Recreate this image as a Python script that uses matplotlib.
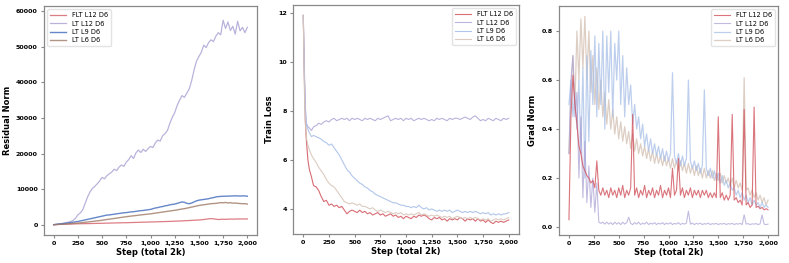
import numpy as np
import matplotlib
matplotlib.use("Agg")
import matplotlib.pyplot as plt

labels = ["FLT L12 D6", "LT L12 D6", "LT L9 D6", "LT L6 D6"]

# ---------------- Residual norm (steps every 25) ----------------
res_steps = list(range(0, 2001, 25))
res_flt = [0, 30, 60, 90, 120, 150, 170, 190, 210, 230, 250, 270, 290, 300, 310, 320, 340, 350, 370, 380,
           400, 420, 440, 450, 470, 490, 500, 520, 530, 550, 560, 580, 600, 620, 640, 660, 680, 700, 720, 740,
           760, 780, 800, 820, 840, 860, 880, 900, 920, 950, 980, 1010, 1040, 1070, 1100, 1130, 1170, 1210, 1250, 1290,
           1330, 1380, 1450, 1550, 1650, 1700, 1650, 1550, 1450, 1500, 1550, 1500, 1550, 1580, 1550, 1600, 1580, 1620, 1600, 1620,
           1600]
res_lt12 = [0, 100, 200, 300, 400, 550, 700, 900, 1200, 1800, 2800, 3300, 4200, 6000, 7800, 9200, 10200, 10800, 11500, 12300,
            13300, 12900, 13800, 14300, 14800, 15600, 15200, 16200, 16800, 16400, 17600, 18300, 19400, 18600, 20200, 21000, 20300, 21200, 20600, 21400,
            22000, 21700, 23000, 23800, 23500, 25000, 25600, 26500, 28500, 30200, 31500, 33500, 35000, 36300, 35800, 37000, 38200, 40500, 43500, 46000,
            47300, 48500, 50500, 49800, 51200, 52000, 51500, 53000, 54000, 53400, 57500, 55200, 57000, 54600, 55800, 53600, 57200, 54500, 55500, 54000,
            55500]
res_lt9 = [0, 80, 160, 240, 320, 400, 500, 600, 700, 800, 900, 1050, 1200, 1350, 1500, 1650, 1800, 1950, 2100, 2250,
           2400, 2550, 2700, 2750, 2850, 2950, 3050, 3150, 3250, 3350, 3400, 3500, 3600, 3650, 3750, 3850, 3950, 4000, 4100, 4200,
           4300, 4500, 4700, 4800, 5000, 5100, 5300, 5400, 5600, 5700, 5800, 6000, 6200, 6400, 6300, 6000, 5900, 6100, 6400, 6700,
           6900, 7000, 7100, 7200, 7300, 7500, 7600, 7800, 7900, 7950, 8000, 8000, 8050, 8050, 8100, 8100, 8100, 8050, 8100, 8100,
           8000]
res_lt6 = [0, 40, 80, 120, 160, 200, 250, 300, 350, 400, 450, 520, 600, 680, 760, 840, 920, 1000, 1080, 1160,
           1250, 1350, 1450, 1550, 1650, 1750, 1850, 1950, 2050, 2150, 2250, 2330, 2420, 2500, 2580, 2660, 2750, 2830, 2900, 2980,
           3050, 3150, 3250, 3350, 3450, 3550, 3650, 3750, 3850, 3950, 4050, 4150, 4300, 4400, 4500, 4650, 4800, 4950, 5100, 5250,
           5400, 5500, 5600, 5700, 5800, 5900, 5950, 6000, 6100, 6200, 6150, 6250, 6100, 6200, 6050, 6100, 6000, 5950, 5900, 5900,
           5800]

# ---------------- Train loss ----------------
loss_steps = [0, 10, 20, 30, 45, 60, 80, 100] + list(range(125, 2001, 25))
loss_flt = [11.9, 9.5, 7.6, 6.8, 6.0, 5.6, 5.3, 4.95,
            4.9, 4.75, 4.5, 4.3, 4.35, 4.15, 4.2, 4.1, 4.15, 4.05, 4.1, 3.95, 3.8, 3.9, 3.95, 3.9,
            3.85, 3.95, 3.85, 3.9, 3.8, 3.85, 3.75, 3.8, 3.85, 3.75, 3.8, 3.7, 3.75, 3.8, 3.7, 3.75,
            3.65, 3.7, 3.6, 3.7, 3.65, 3.6, 3.7, 3.65, 3.75, 3.7, 3.75, 3.7, 3.6, 3.55, 3.65, 3.6,
            3.65, 3.55, 3.6, 3.5, 3.6, 3.55, 3.6, 3.55, 3.65, 3.6, 3.5, 3.6, 3.55, 3.6, 3.5, 3.6,
            3.5, 3.55, 3.45, 3.55, 3.45, 3.4, 3.5, 3.45, 3.5, 3.45, 3.5, 3.55]
loss_lt12 = [11.9, 9.8, 8.2, 7.5, 7.35, 7.3, 7.2, 7.35,
             7.4, 7.5, 7.45, 7.55, 7.6, 7.55, 7.65, 7.7, 7.6, 7.65, 7.7, 7.65, 7.7, 7.6, 7.7, 7.65,
             7.7, 7.65, 7.6, 7.7, 7.65, 7.7, 7.65, 7.6, 7.7, 7.65, 7.7, 7.75, 7.8, 7.6, 7.65, 7.7,
             7.65, 7.7, 7.6, 7.7, 7.65, 7.7, 7.6, 7.65, 7.7, 7.65, 7.7, 7.65, 7.6, 7.65, 7.6, 7.7,
             7.65, 7.7, 7.65, 7.6, 7.7, 7.65, 7.7, 7.7, 7.65, 7.7, 7.75, 7.7, 7.65, 7.75, 7.8, 7.7,
             7.6, 7.65, 7.6, 7.7, 7.65, 7.6, 7.7, 7.65, 7.6, 7.7, 7.65, 7.7]
loss_lt9 = [11.9, 9.6, 8.0, 7.4, 7.25, 7.1, 6.95, 7.0,
            6.95, 6.9, 6.85, 6.75, 6.7, 6.6, 6.65, 6.5, 6.35, 6.2, 6.0, 5.8, 5.6, 5.5, 5.35, 5.25,
            5.15, 5.05, 5.0, 4.9, 4.85, 4.75, 4.7, 4.6, 4.55, 4.5, 4.45, 4.4, 4.35, 4.3, 4.25, 4.25,
            4.2, 4.15, 4.15, 4.1, 4.1, 4.05, 4.1, 4.05, 4.15, 4.05, 4.0, 4.05, 3.95, 4.0, 3.95, 3.9,
            3.95, 3.9, 3.95, 3.9, 3.95, 3.85, 3.9, 3.95, 3.9, 3.85, 3.9, 3.85, 3.9, 3.85, 3.9, 3.85,
            3.8, 3.85, 3.8, 3.85, 3.75, 3.8, 3.75, 3.8, 3.75, 3.8, 3.8, 3.85]
loss_lt6 = [11.9, 9.0, 7.5, 6.9, 6.6, 6.4, 6.2, 6.05,
            5.9, 5.7, 5.55, 5.4, 5.2, 5.05, 4.95, 4.9, 4.75, 4.6, 4.45, 4.3, 4.25, 4.2, 4.25, 4.2,
            4.15, 4.2, 4.1, 4.1, 4.05, 4.0, 4.05, 3.95, 3.9, 3.95, 3.9, 3.85, 3.9, 3.85, 3.8, 3.85,
            3.8, 3.85, 3.75, 3.8, 3.75, 3.8, 3.75, 3.8, 3.85, 3.75, 3.8, 3.75, 3.7, 3.75, 3.7, 3.75,
            3.7, 3.65, 3.7, 3.65, 3.7, 3.6, 3.65, 3.7, 3.65, 3.6, 3.65, 3.6, 3.65, 3.6, 3.65, 3.6,
            3.55, 3.6, 3.55, 3.6, 3.5, 3.55, 3.6, 3.55, 3.6, 3.55, 3.6, 3.65]

# ---------------- Grad norm (steps every 20) ----------------
grad_steps = list(range(0, 2001, 20))
grad_flt = [0.03, 0.45, 0.62, 0.5, 0.42, 0.33, 0.3, 0.25, 0.23, 0.21, 0.2, 0.18, 0.19, 0.16, 0.27, 0.15, 0.13, 0.16, 0.13, 0.15,
            0.12, 0.16, 0.13, 0.15, 0.12, 0.16, 0.13, 0.17, 0.12, 0.15, 0.13, 0.16, 0.46, 0.13, 0.16, 0.12, 0.15, 0.13, 0.17, 0.12,
            0.15, 0.13, 0.16, 0.12, 0.15, 0.13, 0.17, 0.12, 0.15, 0.13, 0.16, 0.12, 0.24, 0.13, 0.15, 0.28, 0.13, 0.16, 0.12, 0.15,
            0.13, 0.16, 0.12, 0.15, 0.13, 0.15, 0.12, 0.15, 0.13, 0.15, 0.12, 0.14, 0.12, 0.14, 0.12, 0.45, 0.12, 0.14, 0.11, 0.13,
            0.11, 0.13, 0.46, 0.11, 0.12, 0.10, 0.11, 0.09, 0.48, 0.09, 0.10, 0.08, 0.09, 0.49, 0.08, 0.085, 0.075, 0.08, 0.07, 0.075,
            0.07]
grad_lt12 = [0.3, 0.6, 0.7, 0.45, 0.55, 0.2, 0.45, 0.12, 0.35, 0.1, 0.25, 0.08, 0.2, 0.06, 0.18, 0.02, 0.015, 0.02, 0.012, 0.02,
             0.012, 0.018, 0.01, 0.02, 0.012, 0.018, 0.01, 0.02, 0.012, 0.018, 0.04, 0.015, 0.01, 0.018, 0.012, 0.02, 0.01, 0.016, 0.012, 0.02,
             0.01, 0.016, 0.012, 0.018, 0.01, 0.016, 0.012, 0.018, 0.01, 0.016, 0.012, 0.018, 0.01, 0.015, 0.012, 0.018, 0.01, 0.015, 0.012, 0.016,
             0.065, 0.012, 0.016, 0.01, 0.015, 0.012, 0.016, 0.01, 0.014, 0.012, 0.016, 0.01, 0.014, 0.012, 0.015, 0.01, 0.014, 0.012, 0.015, 0.01,
             0.014, 0.012, 0.015, 0.01, 0.014, 0.012, 0.015, 0.01, 0.05, 0.012, 0.014, 0.01, 0.013, 0.012, 0.014, 0.01, 0.013, 0.05, 0.012, 0.01,
             0.012]
grad_lt9 = [0.5, 0.6, 0.45, 0.55, 0.4, 0.6, 0.3, 0.65, 0.2, 0.7, 0.35, 0.72, 0.5, 0.78, 0.45, 0.75, 0.5, 0.8, 0.4, 0.78,
            0.55, 0.8, 0.45, 0.75, 0.6, 0.8, 0.5, 0.7, 0.45, 0.65, 0.5, 0.58, 0.42, 0.5, 0.4, 0.45, 0.36, 0.42, 0.33, 0.38,
            0.31, 0.36, 0.3, 0.34, 0.29, 0.33, 0.28, 0.32, 0.27, 0.31, 0.27, 0.3, 0.63, 0.29, 0.26, 0.3, 0.25, 0.29, 0.25, 0.28,
            0.6, 0.27, 0.24, 0.27, 0.23, 0.26, 0.22, 0.25, 0.56, 0.24, 0.21, 0.24, 0.2, 0.23, 0.19, 0.22, 0.18, 0.21, 0.17, 0.19,
            0.16, 0.18, 0.15, 0.16, 0.13, 0.15, 0.12, 0.14, 0.11, 0.13, 0.1, 0.12, 0.09, 0.11, 0.09, 0.1, 0.08, 0.1, 0.08, 0.09,
            0.08]
grad_lt6 = [0.3, 0.55, 0.7, 0.5, 0.8, 0.6, 0.85, 0.65, 0.86, 0.6, 0.8, 0.55, 0.7, 0.5, 0.65, 0.48, 0.6, 0.45, 0.55, 0.42,
            0.52, 0.4, 0.48, 0.38, 0.45, 0.36, 0.43, 0.35, 0.41, 0.34, 0.39, 0.32, 0.38, 0.31, 0.36, 0.3, 0.34, 0.29, 0.33, 0.28,
            0.32, 0.27, 0.31, 0.26, 0.3, 0.26, 0.29, 0.25, 0.29, 0.25, 0.28, 0.24, 0.28, 0.24, 0.27, 0.23, 0.27, 0.23, 0.26, 0.22,
            0.26, 0.22, 0.25, 0.21, 0.25, 0.21, 0.24, 0.2, 0.24, 0.2, 0.23, 0.2, 0.23, 0.19, 0.22, 0.19, 0.22, 0.18, 0.21, 0.18,
            0.2, 0.17, 0.2, 0.16, 0.19, 0.16, 0.18, 0.15, 0.61, 0.15, 0.16, 0.13, 0.15, 0.12, 0.14, 0.11, 0.13, 0.1, 0.12, 0.09,
            0.11]

# ---------------- styling ----------------
c_red = "#d1525c"
c_purple = "#a99fd3"
c_blue_dark = "#4a72c0"
c_brown_dark = "#9e7a66"
c_blue_light = "#a9c0e8"
c_brown_light = "#d8c6ba"

W, H = 789, 263
fig = plt.figure(figsize=(W / 100, H / 100), dpi=100)

XT = [0, 250, 500, 750, 1000, 1250, 1500, 1750, 2000]
XTL = ["0", "250", "500", "750", "1,000", "1,250", "1,500", "1,750", "2,000"]

def style(ax, ylabel):
    for s in ax.spines.values():
        s.set_color("#888888")
        s.set_linewidth(0.9)
    ax.set_xticks(XT)
    ax.set_xticklabels(XTL)
    ax.tick_params(axis="both", colors="#888888", labelcolor="black", length=2.5, width=0.8, labelsize=4.6, pad=2)
    for t in ax.get_xticklabels() + ax.get_yticklabels():
        t.set_fontweight("bold")
    ax.set_xlabel("Step (total 2k)", fontsize=6.0, fontweight="bold", labelpad=1)
    ax.set_ylabel(ylabel, fontsize=6.0, fontweight="bold", labelpad=3)

leg_kw = dict(fontsize=4.8, frameon=True, handlelength=2.4, borderpad=0.45, labelspacing=0.35,
              framealpha=0.8, edgecolor="#dddddd")

# Panel 1
ax1 = fig.add_axes([44 / W, 1 - 235 / H, 213 / W, 229 / H])
ax1.plot(res_steps, res_flt, color=c_red, lw=0.9, alpha=0.75, label=labels[0])
ax1.plot(res_steps, res_lt12, color=c_purple, lw=0.9, alpha=0.8, label=labels[1])
ax1.plot(res_steps, res_lt9, color=c_blue_dark, lw=1.0, alpha=0.85, label=labels[2])
ax1.plot(res_steps, res_lt6, color=c_brown_dark, lw=1.0, alpha=0.8, label=labels[3])
ax1.set_yticks([0, 10000, 20000, 30000, 40000, 50000, 60000])
ax1.set_ylim(-2900, 61500)
style(ax1, "Residual Norm")
ax1.legend(loc="upper left", **leg_kw)

# Panel 2
ax2 = fig.add_axes([293 / W, 1 - 234 / H, 226 / W, 229 / H])
ax2.plot(loss_steps, loss_flt, color=c_red, lw=0.8, alpha=0.85, label=labels[0])
ax2.plot(loss_steps, loss_lt12, color=c_purple, lw=0.8, alpha=0.8, label=labels[1])
ax2.plot(loss_steps, loss_lt9, color=c_blue_light, lw=0.8, alpha=0.9, label=labels[2])
ax2.plot(loss_steps, loss_lt6, color=c_brown_light, lw=0.8, alpha=0.9, label=labels[3])
ax2.set_yticks([4, 6, 8, 10, 12])
style(ax2, "Train Loss")
ax2.legend(loc="upper right", **leg_kw)

# Panel 3
ax3 = fig.add_axes([559 / W, 1 - 235 / H, 219 / W, 229 / H])
ax3.plot(grad_steps, grad_lt6, color=c_brown_light, lw=0.9, alpha=0.85, label=labels[3])
ax3.plot(grad_steps, grad_lt9, color=c_blue_light, lw=0.9, alpha=0.75, label=labels[2])
ax3.plot(grad_steps, grad_lt12, color=c_purple, lw=0.8, alpha=0.7, label=labels[1])
ax3.plot(grad_steps, grad_flt, color=c_red, lw=0.8, alpha=0.8, label=labels[0])
ax3.set_yticks([0.0, 0.2, 0.4, 0.6, 0.8])
style(ax3, "Grad Norm")
h, l = ax3.get_legend_handles_labels()
order = [3, 2, 1, 0]
ax3.legend([h[i] for i in order], [l[i] for i in order], loc="upper right", **leg_kw)

fig.savefig("out.png", dpi=100)
